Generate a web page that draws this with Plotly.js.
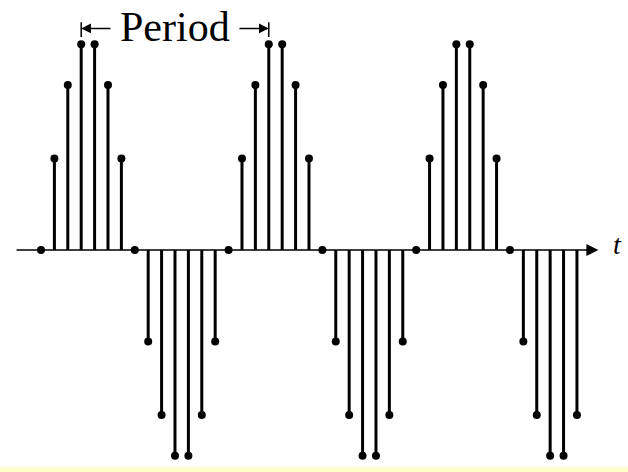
<!DOCTYPE html>
<html>
<head>
<meta charset="utf-8">
<script src="https://cdn.plot.ly/plotly-3.0.1.min.js"></script>
<style>html,body{margin:0;padding:0;background:#fff;}#chart{width:628px;height:472px;}</style>
</head>
<body>
<div id="chart"></div>
<script>
// sample index n and sampled sinusoid value x[n]
const sampleIndex = [0,1,2,3,4,5,6,7,8,9,10,11,12,13,14,15,16,17,18,19,20,21,22,23,24,25,26,27,28,29,30,31,32,33,34,35,36,37,38,39,40];
const sampleValue = [
  0, 0.434, 0.782, 0.975, 0.975, 0.782, 0.434,
  0, -0.434, -0.782, -0.975, -0.975, -0.782, -0.434,
  0, 0.434, 0.782, 0.975, 0.975, 0.782, 0.434,
  0, -0.434, -0.782, -0.975, -0.975, -0.782, -0.434,
  0, 0.434, 0.782, 0.975, 0.975, 0.782, 0.434,
  0, -0.434, -0.782, -0.975, -0.975, -0.782
];
const periodStart = 3;
const periodEnd = 17;
const periodLabel = "Period";
const axisLabel = "t";

// build stems from the data
const stemX = [], stemY = [];
sampleIndex.forEach((n, i) => {
  stemX.push(n, n, null);
  stemY.push(0, sampleValue[i], null);
});

const serif = '"Liberation Serif", "Times New Roman", Times, serif';

const traces = [
  {type: 'scatter', mode: 'lines', x: stemX, y: stemY,
   line: {color: '#000', width: 3}, hoverinfo: 'skip', showlegend: false},
  {type: 'scatter', mode: 'markers', x: sampleIndex, y: sampleValue,
   marker: {color: '#000', size: 8}, showlegend: false}
];

const layout = {
  width: 628, height: 472,
  margin: {l: 0, r: 0, t: 0, b: 0},
  paper_bgcolor: '#ffffff', plot_bgcolor: '#ffffff',
  showlegend: false,
  xaxis: {range: [-3.06, 43.81], visible: false, fixedrange: true},
  yaxis: {range: [-1.052, 1.185], visible: false, fixedrange: true},
  shapes: [
    {type: 'rect', xref: 'paper', yref: 'paper', x0: 0, x1: 1, y0: 0, y1: 5/472,
     fillcolor: '#ffffcc', line: {width: 0}, layer: 'below'},
    {type: 'line', xref: 'x', yref: 'y', x0: periodStart, x1: periodStart, y0: 1.01, y1: 1.08,
     line: {color: '#000', width: 1.5}},
    {type: 'line', xref: 'x', yref: 'y', x0: periodEnd, x1: periodEnd, y0: 1.01, y1: 1.08,
     line: {color: '#000', width: 1.5}}
  ],
  annotations: [
    // time axis with arrow
    {x: 41.6, y: 0, ax: -1.94, ay: 0, axref: 'x', ayref: 'y', xref: 'x', yref: 'y',
     text: '', showarrow: true, arrowhead: 2, arrowsize: 1.6, arrowwidth: 1.5,
     arrowcolor: '#000', standoff: 0, startstandoff: 0},
    {x: 43.0, y: 0.024, xref: 'x', yref: 'y', text: '<i>' + axisLabel + '</i>',
     showarrow: false, font: {family: serif, size: 28, color: '#000'}},
    // period arrows
    {x: periodStart, y: 1.05, ax: 5.3, ay: 1.05, axref: 'x', ayref: 'y', xref: 'x', yref: 'y',
     text: '', showarrow: true, arrowhead: 2, arrowsize: 1.3, arrowwidth: 1.5,
     arrowcolor: '#000', standoff: 0, startstandoff: 0},
    {x: periodEnd, y: 1.05, ax: 14.7, ay: 1.05, axref: 'x', ayref: 'y', xref: 'x', yref: 'y',
     text: '', showarrow: true, arrowhead: 2, arrowsize: 1.3, arrowwidth: 1.5,
     arrowcolor: '#000', standoff: 0, startstandoff: 0},
    {x: (periodStart + periodEnd) / 2, y: 1.057, xref: 'x', yref: 'y', text: periodLabel,
     showarrow: false, font: {family: serif, size: 42, color: '#000'}}
  ]
};

Plotly.newPlot('chart', traces, layout, {displayModeBar: false, staticPlot: true});
</script>
</body>
</html>
